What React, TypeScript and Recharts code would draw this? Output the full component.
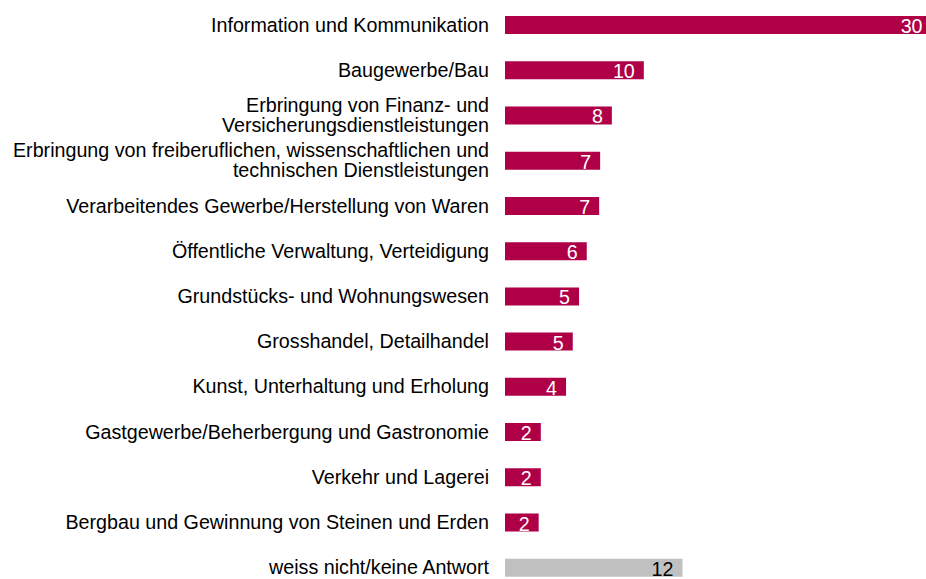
import { BarChart, Bar, XAxis, YAxis, Cell, LabelList } from "recharts";

const categories = [
  "Information und Kommunikation",
  "Baugewerbe/Bau",
  "Erbringung von Finanz- und\nVersicherungsdienstleistungen",
  "Erbringung von freiberuflichen, wissenschaftlichen und\ntechnischen Dienstleistungen",
  "Verarbeitendes Gewerbe/Herstellung von Waren",
  "Öffentliche Verwaltung, Verteidigung",
  "Grundstücks- und Wohnungswesen",
  "Grosshandel, Detailhandel",
  "Kunst, Unterhaltung und Erholung",
  "Gastgewerbe/Beherbergung und Gastronomie",
  "Verkehr und Lagerei",
  "Bergbau und Gewinnung von Steinen und Erden",
  "weiss nicht/keine Antwort",
];

// bar lengths, printed labels as shown
const values = [29.9, 9.73, 7.49, 6.67, 6.6, 5.73, 5.19, 4.75, 4.28, 2.51, 2.51, 2.36, 12.44];
const valueLabels = ["30", "10", "8", "7", "7", "6", "5", "5", "4", "2", "2", "2", "12"];

const data = categories.map((name, i) => ({ name, value: values[i], label: valueLabels[i] }));

const MAGENTA = "#AF0047";
const GRAY = "#C0C0C0";
const FONT = "'Liberation Sans', Arial, sans-serif";

const CategoryTick = ({ x, y, payload }: any) => {
  const lines = String(payload.value).split("\n");
  const lineH = 20;
  const startDy = -((lines.length - 1) * lineH) / 2;
  return (
    <text x={x} y={y} textAnchor="end" fill="#000" fontSize={19.7} fontFamily={FONT} dominantBaseline="central">
      {lines.map((l, i) => (
        <tspan key={i} x={x} dy={i === 0 ? startDy : lineH}>
          {l}
        </tspan>
      ))}
    </text>
  );
};

const ValueLabel = (props: any) => {
  const { x, y, width, height, index } = props;
  const last = index === categories.length - 1;
  return (
    <text
      x={x + width - 9}
      y={y + height / 2 + 1}
      textAnchor="end"
      dominantBaseline="central"
      fontSize={19.7}
      fontFamily={FONT}
      fill={last ? "#000" : "#fff"}
    >
      {data[index].label}
    </text>
  );
};

export default function App() {
  return (
    <div style={{ position: "fixed", left: 0, top: 0, width: 926, height: 579, overflow: "hidden", background: "#fff" }}>
      <BarChart
        width={933}
        height={590}
        data={data}
        layout="vertical"
        margin={{ top: 2, right: 0, bottom: 0, left: 0 }}
      >
        <XAxis type="number" domain={[0, 30]} hide allowDataOverflow />
        <YAxis
          type="category"
          dataKey="name"
          width={505}
          axisLine={false}
          tickLine={false}
          tickMargin={10}
          interval={0}
          tick={<CategoryTick />}
        />
        <Bar dataKey="value" barSize={18} isAnimationActive={false}>
          {data.map((d, i) => (
            <Cell key={d.name} fill={i === categories.length - 1 ? GRAY : MAGENTA} />
          ))}
          <LabelList dataKey="label" content={<ValueLabel />} />
        </Bar>
      </BarChart>
    </div>
  );
}
